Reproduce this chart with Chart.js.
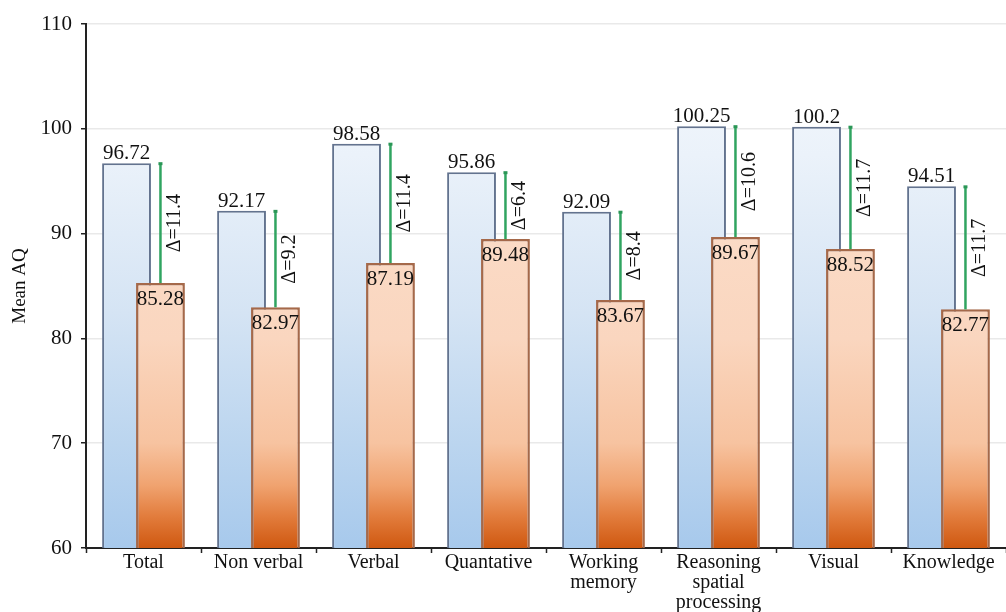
<!DOCTYPE html>
<html>
<head>
<meta charset="utf-8">
<script src="https://cdn.jsdelivr.net/npm/chart.js@4/dist/chart.umd.min.js"></script>
<style>
  html, body { margin: 0; padding: 0; background: #ffffff; }
  #wrap { width: 1006px; height: 612px; }
</style>
</head>
<body>
<div id="wrap"><canvas id="chart" width="1006" height="612"></canvas></div>
<script>
// Category labels (multi-line where wrapped)
const categories = [
  "Total", "Non verbal", "Verbal", "Quantative",
  ["Working", "memory"], ["Reasoning", "spatial", "processing"],
  "Visual", "Knowledge"
];
// Mean AQ, first group (blue bars)
const groupA = [96.72, 92.17, 98.58, 95.86, 92.09, 100.25, 100.2, 94.51];
// Mean AQ, second group (orange bars)
const groupB = [85.28, 82.97, 87.19, 89.48, 83.67, 89.67, 88.52, 82.77];
// Value axis ticks
const yTicks = [60, 70, 80, 90, 100, 110];

const SERIF = "'Liberation Serif', 'Times New Roman', serif";

function blueFill(ctx) {
  const area = ctx.chart.chartArea;
  if (!area) return '#cfe0f3';
  const g = ctx.chart.ctx.createLinearGradient(0, area.top, 0, area.bottom);
  g.addColorStop(0.00, '#f6f9fd');
  g.addColorStop(0.25, '#ebf2fa');
  g.addColorStop(0.55, '#d5e4f4');
  g.addColorStop(0.80, '#bbd5ef');
  g.addColorStop(1.00, '#a7c9ec');
  return g;
}

function orangeFill(ctx) {
  const area = ctx.chart.chartArea;
  if (!area) return '#f6c8a8';
  const g = ctx.chart.ctx.createLinearGradient(0, area.top, 0, area.bottom);
  g.addColorStop(0.00, '#fde4d3');
  g.addColorStop(0.60, '#fad6bf');
  g.addColorStop(0.80, '#f7c3a0');
  g.addColorStop(0.88, '#f0a370');
  g.addColorStop(0.94, '#e27c3c');
  g.addColorStop(1.00, '#cf5810');
  return g;
}

// Orange bars sit above the blue ones; value labels, difference lines and their labels on top
const annotate = {
  id: 'annotate',
  beforeDatasetDraw(chart, args) {
    if (args.index === 1) return false;
  },
  afterDatasetsDraw(chart) {
    const ctx = chart.ctx;
    const area = chart.chartArea;
    const metaA = chart.getDatasetMeta(0);
    const metaB = chart.getDatasetMeta(1);

    ctx.save();
    ctx.beginPath();
    ctx.rect(area.left, area.top - 2, area.right - area.left, area.bottom - area.top + 2);
    ctx.clip();
    metaB.controller.draw();
    ctx.restore();

    ctx.save();
    ctx.fillStyle = '#111111';
    ctx.textAlign = 'center';
    ctx.textBaseline = 'alphabetic';
    ctx.font = '21px ' + SERIF;
    for (let i = 0; i < groupA.length; i++) {
      const a = metaA.data[i], b = metaB.data[i];
      ctx.fillText(String(groupA[i]), a.x, a.y - 4);
      ctx.fillText(String(groupB[i]), b.x, b.y + 22);
    }

    for (let i = 0; i < groupA.length; i++) {
      const a = metaA.data[i], b = metaB.data[i];
      const x = b.x;
      const y0 = a.y, y1 = b.y;
      ctx.strokeStyle = '#30a460';
      ctx.lineWidth = 2.5;
      ctx.beginPath();
      ctx.moveTo(x, y0);
      ctx.lineTo(x, y1);
      ctx.stroke();
      ctx.fillStyle = '#2a9656';
      ctx.fillRect(x - 2, y0 - 1, 4, 3);

      const delta = (groupA[i] - groupB[i]).toFixed(1);
      ctx.save();
      ctx.translate(x + 14, (y0 + y1) / 2);
      ctx.rotate(-Math.PI / 2);
      ctx.fillStyle = '#111111';
      ctx.font = '20px ' + SERIF;
      ctx.textAlign = 'center';
      ctx.textBaseline = 'middle';
      ctx.fillText('\u0394=' + delta, 0, 0);
      ctx.restore();
    }
    ctx.restore();
  }
};

new Chart(document.getElementById('chart'), {
  type: 'bar',
  data: {
    labels: categories,
    datasets: [
      {
        data: groupA,
        backgroundColor: blueFill,
        borderColor: '#63738f',
        borderWidth: 2,
        categoryPercentage: 0.59,
        barPercentage: 1.44
      },
      {
        data: groupB,
        backgroundColor: orangeFill,
        borderColor: '#a5694a',
        borderWidth: 2.5,
        categoryPercentage: 0.59,
        barPercentage: 1.44
      }
    ]
  },
  options: {
    responsive: false,
    animation: false,
    devicePixelRatio: 1,
    layout: { padding: { top: 24, right: 0, bottom: 0, left: 0 } },
    plugins: { legend: { display: false }, tooltip: { enabled: false } },
    scales: {
      x: {
        offset: true,
        grid: { offset: true, drawOnChartArea: false, tickLength: 5, tickColor: '#222222', tickWidth: 1.5 },
        border: { color: '#222222', width: 2 },
        ticks: {
          color: '#111111',
          font: { family: SERIF, size: 20, lineHeight: 1.0 },
          padding: 0,
          maxRotation: 0,
          autoSkip: false
        },
        afterFit(scale) { scale.height = 64; }
      },
      y: {
        min: 60,
        max: 110,
        afterBuildTicks(scale) { scale.ticks = yTicks.map(v => ({ value: v })); },
        grid: { color: '#e9e9e9', lineWidth: 1.5, tickLength: 5, tickColor: '#222222' },
        border: { color: '#222222', width: 2 },
        ticks: { color: '#111111', font: { family: SERIF, size: 21 }, padding: 9 },
        title: {
          display: true,
          text: 'Mean AQ',
          color: '#111111',
          font: { family: SERIF, size: 19 },
          padding: { top: 9, bottom: 0 }
        },
        afterFit(scale) { scale.width = 86; }
      }
    }
  },
  plugins: [annotate]
});
</script>
</body>
</html>
